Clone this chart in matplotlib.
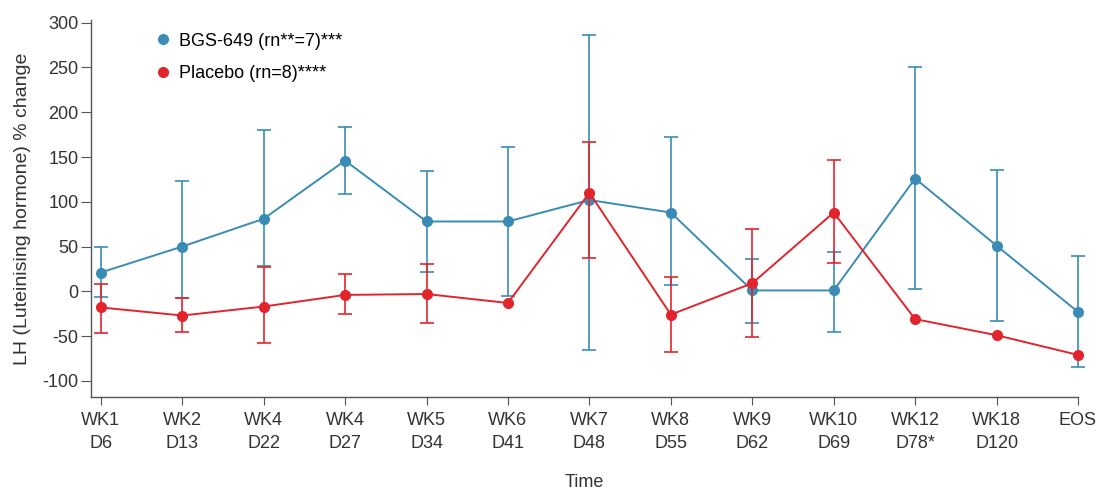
import matplotlib
matplotlib.use("Agg")
import matplotlib.pyplot as plt
from matplotlib.lines import Line2D
import numpy as np

plt.rcParams['font.family'] = ['Liberation Sans', 'DejaVu Sans']
plt.rcParams['axes.unicode_minus'] = False

tick_labels = ["WK1\nD6", "WK2\nD13", "WK4\nD22", "WK4\nD27", "WK5\nD34", "WK6\nD41",
               "WK7\nD48", "WK8\nD55", "WK9\nD62", "WK10\nD69", "WK12\nD78*", "WK18\nD120", "EOS"]

bgs_mean = [21, 50, 81, 146, 78, 78, 102, 88, 1, 1, 126, 51, -23]
bgs_upper = [50, 123, 180, 183, 134, 161, 286, 172, 36, 44, 250, 136, 39]
bgs_lower = [-6, -8, 28, 109, 22, -5, -65, 7, -35, -45, 3, -33, -84]

pla_mean = [-18, -27, -17, -4, -3, -13, 110, -26, 9, 88, -31, -49, -71]
pla_upper = [8, -8, 27, 19, 30, np.nan, 167, 16, 70, 147, np.nan, np.nan, np.nan]
pla_lower = [-47, -45, -58, -25, -35, np.nan, 37, -68, -51, 32, np.nan, np.nan, np.nan]

blue = '#3a8cb5'
red = '#e2242d'

fig = plt.figure(figsize=(10.96, 4.91), dpi=100)
ax = fig.add_axes([91 / 1096, 1 - 397 / 491, 987 / 1096, 377 / 491])

x = np.arange(len(tick_labels))

def draw(mean, lo, hi, color, z):
    mean = np.array(mean, float); lo = np.array(lo, float); hi = np.array(hi, float)
    ok = ~np.isnan(lo)
    yerr = np.vstack([mean[ok] - lo[ok], hi[ok] - mean[ok]])
    cont = ax.errorbar(x[ok], mean[ok], yerr=yerr, fmt='none', ecolor=color, elinewidth=1.4,
                       capsize=5, capthick=1.4, alpha=0.85, zorder=z)
    for art in cont.lines[1] + cont.lines[2]:
        art.set_clip_on(False)
    for art in cont.lines[2]:
        art.set_clip_on(False)
    ax.plot(x, mean, '-', color=color, lw=1.4, zorder=z + 1, clip_on=False)
    ax.plot(x, mean, 'o', color=color, ms=8, mec='none', zorder=z + 2, clip_on=False)

draw(bgs_mean, bgs_lower, bgs_upper, blue, 2)
draw(pla_mean, pla_lower, pla_upper, red, 5)

ax.set_xlim(-0.12, 12.0)
ax.set_ylim(-118, 303)
ax.set_yticks([-100, -50, 0, 50, 100, 150, 200, 250, 300])
ax.set_xticks(x)
ax.set_xticklabels(tick_labels, fontsize=13, color='#333333', linespacing=1.45)
ax.tick_params(axis='y', labelsize=13, labelcolor='#333333', length=7, color='#555555', pad=2)
ax.tick_params(axis='x', length=6, color='#555555', pad=5)
for s in ['top', 'right']:
    ax.spines[s].set_visible(False)
for s in ['left', 'bottom']:
    ax.spines[s].set_color('#555555')
    ax.spines[s].set_linewidth(1.0)

ax.set_ylabel("LH (Luteinising hormone) % change", fontsize=14, color='#333333', labelpad=8)
ax.set_xlabel("Time", fontsize=13, color='#333333', labelpad=16)

handles = [Line2D([], [], marker='o', ls='none', color=blue, ms=8, mec='none'),
           Line2D([], [], marker='o', ls='none', color=red, ms=8, mec='none')]
ax.legend(handles, ["BGS-649 (rn**=7)***", "Placebo (rn=8)****"], loc='upper left',
          bbox_to_anchor=(0.134, 0.948), bbox_transform=fig.transFigure,
          frameon=False, fontsize=13, labelspacing=0.85, handletextpad=0.4,
          handlelength=1.0, borderaxespad=0)

fig.savefig("out.png", dpi=100)
